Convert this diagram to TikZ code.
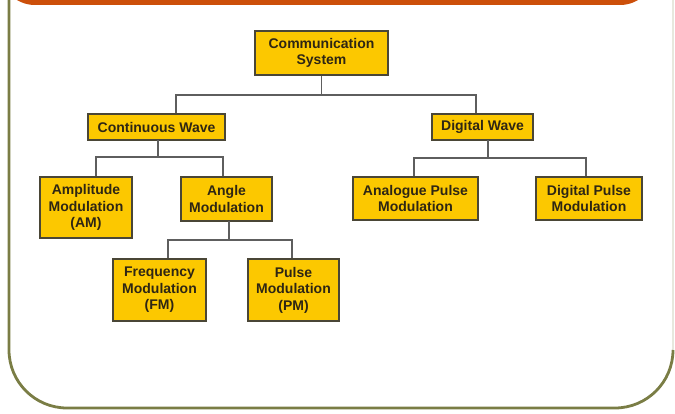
\documentclass[tikz,border=0pt]{standalone}
\usepackage{fontspec}
\setmainfont{Liberation Sans}
\definecolor{boxfill}{HTML}{FCC800}
\definecolor{boxdraw}{HTML}{4A4636}
\definecolor{conncol}{HTML}{5E5E5E}
\definecolor{framecol}{HTML}{7A7D45}
\definecolor{barcol}{HTML}{CC4F0A}
\definecolor{txtcol}{HTML}{2E2614}
\begin{document}
\begin{tikzpicture}[x=1pt,y=-1pt,
  box/.style={draw=boxdraw, line width=1.4pt, fill=boxfill, align=center, inner sep=0pt,
    text=txtcol, font=\fontsize{14}{16.5}\selectfont\bfseries},
  conn/.style={draw=conncol, line width=1.8pt}]
\useasboundingbox (0,0) rectangle (675,414);
\clip (0,0) rectangle (675,414);
\fill[white] (0,0) rectangle (675,414);
% frame
\draw[framecol!18, line width=1.2pt] (673,0) -- (673,352);
\draw[framecol, line width=2.8pt] (9,0) -- (9,350) arc[start angle=180, end angle=90, radius=58] -- (615,408) arc[start angle=90, end angle=0, radius=58];
\fill[barcol, rounded corners=35pt] (0,-80) rectangle (655,5);
% nodes
\node[box, minimum width=133, minimum height=44] (cs) at (321.5,53) {Communication\\System};
\node[box, minimum width=137, minimum height=26] (cw) at (156.5,127) {Continuous Wave};
\node[box, minimum width=101, minimum height=26] (dw) at (482.5,127) {Digital Wave};
\node[box, minimum width=92, minimum height=61] (am) at (86,207.5) {Amplitude\\Modulation\\(AM)};
\node[box, minimum width=91, minimum height=44] (ang) at (226.5,199) {Angle\\Modulation};
\node[box, minimum width=125, minimum height=43] (apm) at (415.5,198.5) {Analogue Pulse\\Modulation};
\node[box, minimum width=106, minimum height=43] (dpm) at (589,198.5) {Digital Pulse\\Modulation};
\node[box, minimum width=93, minimum height=62] (fm) at (159.5,290) {Frequency\\Modulation\\(FM)};
\node[box, minimum width=91, minimum height=62] (pm) at (293.5,290) {Pulse\\Modulation\\(PM)};
% bus coordinates
\coordinate (b1l) at (176,95);  \coordinate (b1r) at (476,95);
\coordinate (b2l) at (96,157);  \coordinate (b2r) at (223,157);
\coordinate (b3l) at (414,158); \coordinate (b3r) at (586,158);
\coordinate (b4l) at (168,240); \coordinate (b4r) at (292,240);
\coordinate (d2) at (158,140);
\coordinate (d3) at (488,140);
\coordinate (d4) at (229,221);
% connectors
\draw[conn] (cs.south) -- (cs.south |- b1l);
\draw[conn, line join=miter] (b1l |- cw.north) -- (b1l) -- (b1r) -- (b1r |- dw.north);
\draw[conn] (d2) -- (d2 |- b2l);
\draw[conn] (b2l |- am.north) -- (b2l) -- (b2r) -- (b2r |- ang.north);
\draw[conn] (d3) -- (d3 |- b3l);
\draw[conn] (b3l |- apm.north) -- (b3l) -- (b3r) -- (b3r |- dpm.north);
\draw[conn] (d4) -- (d4 |- b4l);
\draw[conn] (b4l |- fm.north) -- (b4l) -- (b4r) -- (b4r |- pm.north);
\end{tikzpicture}
\end{document}
